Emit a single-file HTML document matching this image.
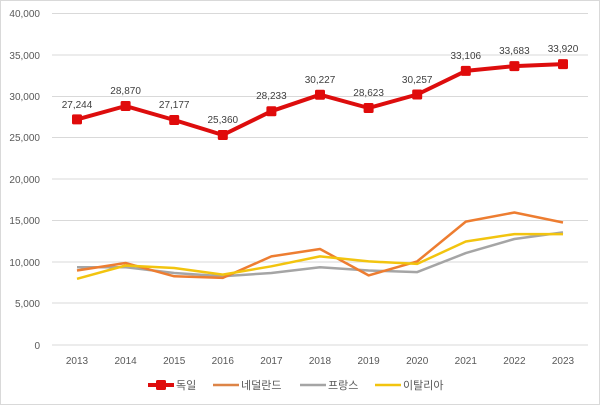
<!DOCTYPE html>
<html><head><meta charset="utf-8"><style>
body{margin:0;background:#fff}
svg{display:block;font-family:"Liberation Sans","Noto Sans CJK KR",sans-serif}
</style></head><body>
<svg width="600" height="405" viewBox="0 0 600 405">
<rect x="0.5" y="0.5" width="599" height="404" fill="#fff" stroke="#d9d9d9"/>
<g stroke="#d9d9d9" stroke-width="1">
<line x1="52" x2="588" y1="13.5" y2="13.5"/>
<line x1="52" x2="588" y1="55" y2="55"/>
<line x1="52" x2="588" y1="96.5" y2="96.5"/>
<line x1="52" x2="588" y1="137.5" y2="137.5"/>
<line x1="52" x2="588" y1="179" y2="179"/>
<line x1="52" x2="588" y1="220.5" y2="220.5"/>
<line x1="52" x2="588" y1="262" y2="262"/>
<line x1="52" x2="588" y1="303" y2="303"/>
<line x1="52" x2="588" y1="345" y2="345"/>
</g>
<g font-size="10" fill="#595959" text-anchor="end">
<text x="40" y="17">40,000</text><text x="40" y="59">35,000</text><text x="40" y="100">30,000</text>
<text x="40" y="141">25,000</text><text x="40" y="183">20,000</text><text x="40" y="224">15,000</text>
<text x="40" y="266">10,000</text><text x="40" y="307">5,000</text><text x="40" y="349">0</text>
</g>
<g font-size="10" fill="#595959" text-anchor="middle">
<text x="77" y="364">2013</text><text x="125.6" y="364">2014</text><text x="174.2" y="364">2015</text>
<text x="222.8" y="364">2016</text><text x="271.4" y="364">2017</text><text x="320" y="364">2018</text>
<text x="368.6" y="364">2019</text><text x="417.2" y="364">2020</text><text x="465.8" y="364">2021</text>
<text x="514.4" y="364">2022</text><text x="563" y="364">2023</text>
</g>
<g fill="none" stroke-width="2.5" stroke-linejoin="round">
<polyline stroke="#a5a5a5" points="77,267.2 125.6,267.2 174.2,273 222.8,276.3 271.4,273 320,267.2 368.6,270.5 417.2,272.1 465.8,253.1 514.4,239 563,232.4"/>
<polyline stroke="#ed7d31" stroke="#dd8447" points="77,270.5 125.6,263 174.2,276.3 222.8,277.9 271.4,256.4 320,249 368.6,275.4 417.2,261.4 465.8,221.6 514.4,212.5 563,222.5"/>
<polyline stroke="#f2c40f" points="77,278.8 125.6,265.5 174.2,268 222.8,274.6 271.4,266.3 320,256.4 368.6,261.4 417.2,263.9 465.8,241.5 514.4,234.1 563,234.1"/>
<polyline stroke="#dd0d0d" stroke-width="4" points="77,119.4 125.6,106 174.2,120 222.8,135 271.4,111.2 320,94.7 368.6,108 417.2,94.5 465.8,70.9 514.4,66.1 563,64.1"/>
</g>
<g fill="#e00b0b">
<rect x="72" y="114.4" width="10" height="10" rx="1.5"/><rect x="120.6" y="101" width="10" height="10" rx="1.5"/>
<rect x="169.2" y="115" width="10" height="10" rx="1.5"/><rect x="217.8" y="130" width="10" height="10" rx="1.5"/>
<rect x="266.4" y="106.2" width="10" height="10" rx="1.5"/><rect x="315" y="89.7" width="10" height="10" rx="1.5"/>
<rect x="363.6" y="103" width="10" height="10" rx="1.5"/><rect x="412.2" y="89.5" width="10" height="10" rx="1.5"/>
<rect x="460.8" y="65.9" width="10" height="10" rx="1.5"/><rect x="509.4" y="61.1" width="10" height="10" rx="1.5"/>
<rect x="558" y="59.1" width="10" height="10" rx="1.5"/>
</g>
<g font-size="10" fill="#404040" text-anchor="middle">
<text x="77" y="108">27,244</text><text x="125.6" y="94">28,870</text><text x="174.2" y="108">27,177</text>
<text x="222.8" y="123">25,360</text><text x="271.4" y="99">28,233</text><text x="320" y="83">30,227</text>
<text x="368.6" y="96">28,623</text><text x="417.2" y="83">30,257</text><text x="465.8" y="59">33,106</text>
<text x="514.4" y="54">33,683</text><text x="563" y="52">33,920</text>
</g>
<g font-size="11" fill="#595959">
<line x1="148" x2="174" y1="385" y2="385" stroke="#dd0d0d" stroke-width="4"/>
<rect x="156" y="380" width="10" height="10" rx="1.5" fill="#e00b0b"/>
<text x="176" y="389">독일</text>
<line x1="213" x2="239" y1="385" y2="385" stroke="#dd8447" stroke-width="2.5"/>
<text x="241" y="389">네덜란드</text>
<line x1="300" x2="326" y1="385" y2="385" stroke="#a5a5a5" stroke-width="2.5"/>
<text x="328" y="389">프랑스</text>
<line x1="375" x2="401" y1="385" y2="385" stroke="#f2c40f" stroke-width="2.5"/>
<text x="403" y="389">이탈리아</text>
</g>
</svg>
</body></html>
